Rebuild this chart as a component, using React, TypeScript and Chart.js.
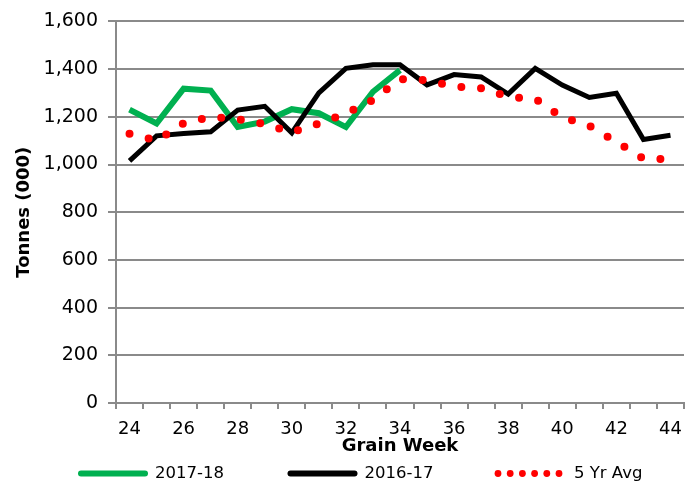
import React, { useEffect, useRef } from 'react';
import { Chart, registerables } from 'chart.js';

Chart.register(...registerables);

// Grain weeks (categories)
const weeks = [24, 25, 26, 27, 28, 29, 30, 31, 32, 33, 34, 35, 36, 37, 38, 39, 40, 41, 42, 43, 44];

// Tonnes (000)
const series2017_18 = [1230, 1172, 1318, 1310, 1157, 1180, 1232, 1215, 1157, 1305, 1396, null, null, null, null, null, null, null, null, null, null];
const series2016_17 = [1015, 1120, 1130, 1137, 1228, 1244, 1133, 1300, 1403, 1418, 1418, 1334, 1377, 1367, 1295, 1403, 1333, 1281, 1299, 1105, 1123];
const avg5yr = [1129, 1100, 1173, 1200, 1190, 1170, 1135, 1172, 1214, 1270, 1358, 1353, 1327, 1320, 1284, 1275, 1198, 1162, 1095, 1024, 1022];

const seriesLabels = ['2017-18', '2016-17', '5 Yr Avg'];
const seriesColors = ['#00B050', '#000000', '#FF0000'];

const FONT = '"DejaVu Sans", "Liberation Sans", Arial, sans-serif';
const GRID = '#8a8a8a';

const legendPlugin = {
  id: 'bottomLegend',
  afterDraw(chart: any) {
    const ctx = chart.ctx as CanvasRenderingContext2D;
    const y = 473.5;
    const startX = 78;
    const pitch = 209.5;
    chart.data.datasets.forEach((ds: any, i: number) => {
      const x0 = startX + i * pitch;
      ctx.save();
      if (ds.borderDash && ds.borderDash.length) {
        ctx.fillStyle = ds.borderColor;
        for (let k = 0; k < 6; k++) {
          ctx.beginPath();
          ctx.arc(x0 + 1 + k * 12.2, y, 3.4, 0, Math.PI * 2);
          ctx.fill();
        }
      } else {
        ctx.strokeStyle = ds.borderColor;
        ctx.lineWidth = 6;
        ctx.lineCap = 'round';
        ctx.beginPath();
        ctx.moveTo(x0 + 3, y);
        ctx.lineTo(x0 + 67, y);
        ctx.stroke();
      }
      ctx.fillStyle = '#000';
      ctx.font = `16.5px ${FONT}`;
      ctx.textBaseline = 'middle';
      ctx.textAlign = 'left';
      ctx.fillText(ds.label, x0 + 77, y);
      ctx.restore();
    });
  },
};

export default function App() {
  const ref = useRef<HTMLCanvasElement | null>(null);

  useEffect(() => {
    if (!ref.current) return;
    const chart = new Chart(ref.current, {
      type: 'line',
      data: {
        labels: weeks,
        datasets: [
          {
            label: seriesLabels[0],
            data: series2017_18,
            borderColor: seriesColors[0],
            backgroundColor: seriesColors[0],
            borderWidth: 6,
            pointRadius: 0,
            tension: 0,
            order: 2,
          },
          {
            label: seriesLabels[1],
            data: series2016_17,
            borderColor: seriesColors[1],
            backgroundColor: seriesColors[1],
            borderWidth: 5,
            pointRadius: 0,
            tension: 0,
            order: 1,
          },
          {
            label: seriesLabels[2],
            data: avg5yr,
            borderColor: seriesColors[2],
            backgroundColor: seriesColors[2],
            borderWidth: 8,
            borderDash: [0, 19.7],
            borderCapStyle: 'round',
            pointRadius: 0,
            tension: 0,
            order: 0,
          },
        ],
      },
      options: {
        responsive: false,
        animation: false,
        layout: { padding: { top: 15, right: 13, bottom: 26, left: 0 } },
        plugins: {
          legend: { display: false },
          tooltip: { enabled: false },
        },
        scales: {
          x: {
            type: 'category',
            offset: true,
            afterFit: (scale: any) => {
              scale.height = 54;
            },
            grid: {
              display: true,
              drawOnChartArea: false,
              drawTicks: true,
              tickLength: 6,
              offset: true,
              color: GRID,
              lineWidth: 2,
            },
            border: { display: true, color: GRID, width: 2 },
            ticks: {
              autoSkip: false,
              maxRotation: 0,
              minRotation: 0,
              padding: 10,
              color: '#000',
              font: { family: FONT, size: 18 },
              callback: (_v: any, idx: number) => (idx % 2 === 0 ? String(weeks[idx]) : ''),
            },
            title: {
              display: true,
              text: 'Grain Week',
              color: '#000',
              font: { family: FONT, size: 18, weight: 'bold' },
              padding: { top: 0, bottom: 0 },
            },
          },
          y: {
            min: 0,
            max: 1600,
            afterFit: (scale: any) => {
              scale.width = 116;
            },
            grid: {
              color: GRID,
              lineWidth: 2,
              drawTicks: true,
              tickLength: 8,
            },
            border: { display: true, color: GRID, width: 2 },
            ticks: {
              stepSize: 200,
              padding: 10,
              color: '#000',
              font: { family: FONT, size: 19 },
              callback: (v: any) => Number(v).toLocaleString('en-US'),
            },
            title: {
              display: true,
              text: 'Tonnes (000)',
              color: '#000',
              font: { family: FONT, size: 18, weight: 'bold' },
              padding: { top: 14, bottom: 0 },
            },
          },
        },
      },
      plugins: [legendPlugin],
    });
    return () => chart.destroy();
  }, []);

  return (
    <div style={{ position: 'absolute', left: 0, top: 0, width: 697, height: 483, background: '#fff' }}>
      <canvas ref={ref} width={697} height={483} style={{ display: 'block' }} />
    </div>
  );
}
